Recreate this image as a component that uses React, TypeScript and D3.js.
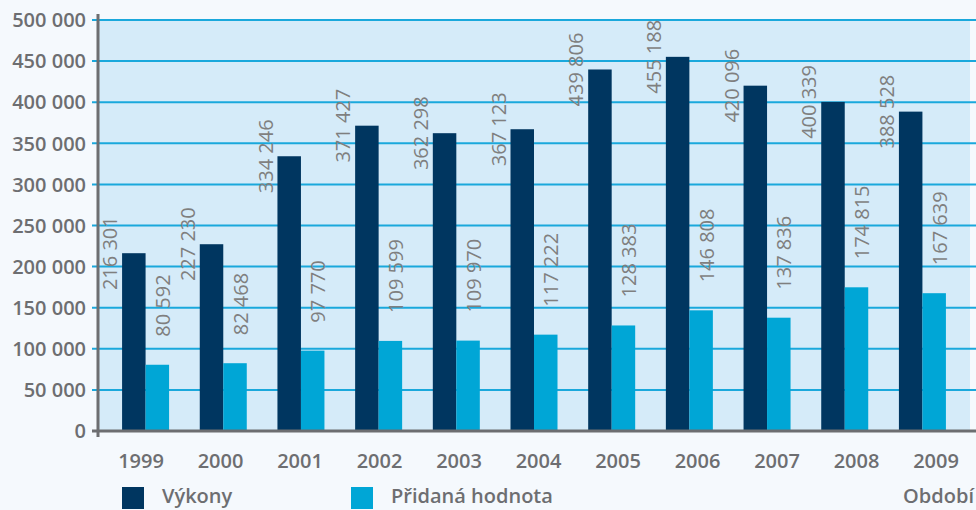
import React, { useEffect, useRef } from 'react';
import * as d3 from 'd3';

const years = ['1999', '2000', '2001', '2002', '2003', '2004', '2005', '2006', '2007', '2008', '2009'];
const vykony = [216301, 227230, 334246, 371427, 362298, 367123, 439806, 455188, 420096, 400339, 388528];
const pridana = [80592, 82468, 97770, 109599, 109970, 117222, 128383, 146808, 137836, 174815, 167639];
const yTicks = [0, 50000, 100000, 150000, 200000, 250000, 300000, 350000, 400000, 450000, 500000];
const seriesNames = ['Výkony', 'Přidaná hodnota'];
const axisTitle = 'Období';

const DARK = '#003660';
const LIGHT = '#00a6d6';
const GRAY = '#6d6e71';

const fmt = (v: number) => d3.format(',')(v).replace(/,/g, ' ');

const App: React.FC = () => {
  const svgRef = useRef<SVGSVGElement>(null);

  useEffect(() => {
    document.body.style.margin = '0';
    if (!svgRef.current) return;
    const width = 976;
    const height = 510;
    const left = 98;
    const right = 970;
    const top = 20;
    const bottom = 431;

    const svg = d3.select(svgRef.current);
    svg.selectAll('*').remove();
    svg.attr('width', width).attr('height', height).attr('viewBox', `0 0 ${width} ${height}`);

    const font = "'Open Sans', 'DejaVu Sans', sans-serif";

    svg.append('rect').attr('width', width).attr('height', height).attr('fill', '#f5f9fd');
    svg.append('rect').attr('x', left).attr('y', top).attr('width', right - left).attr('height', bottom - top).attr('fill', '#d5ebf9');

    const y = d3.scaleLinear().domain([0, 500000]).range([bottom, top]);
    const x = d3.scaleBand<string>().domain(years).range([left, right]).paddingInner(0.395).paddingOuter(0.31);
    const xs = d3.scaleBand<string>().domain(['v', 'p']).range([0, x.bandwidth()]);
    const xl = d3.scalePoint<string>().domain(years).range([141, 936]);

    // gridlines
    svg.append('g').selectAll('line').data(yTicks.slice(1)).enter().append('line')
      .attr('x1', left - 6).attr('x2', width)
      .attr('y1', d => y(d)).attr('y2', d => y(d))
      .attr('stroke', '#1aa8dc').attr('stroke-width', 2);

    // y tick labels
    svg.append('g').selectAll('text').data(yTicks).enter().append('text')
      .attr('x', 86).attr('y', d => y(d)).attr('dy', '0.36em')
      .attr('text-anchor', 'end').attr('font-family', font).attr('font-weight', 600)
      .attr('font-size', 20).attr('fill', GRAY)
      .text(d => fmt(d));

    // bars
    const g = svg.append('g');
    years.forEach((yr, i) => {
      const x0 = x(yr) as number;
      g.append('rect').attr('x', x0 + (xs('v') as number)).attr('y', y(vykony[i]))
        .attr('width', xs.bandwidth()).attr('height', bottom - y(vykony[i])).attr('fill', DARK);
      g.append('rect').attr('x', x0 + (xs('p') as number)).attr('y', y(pridana[i]))
        .attr('width', xs.bandwidth()).attr('height', bottom - y(pridana[i])).attr('fill', LIGHT);

      const cxV = x0 + (xs('v') as number) + xs.bandwidth() / 2 - 24;
      g.append('text')
        .attr('transform', `translate(${cxV},${y(vykony[i])}) rotate(-90)`)
        .attr('text-anchor', 'middle').attr('dominant-baseline', 'central')
        .attr('font-family', font).attr('font-weight', 500).attr('font-size', 20).attr('fill', '#7f7f7f')
        .text(fmt(vykony[i]));

      const cxP = x0 + (xs('p') as number) + xs.bandwidth() / 2 + 5;
      g.append('text')
        .attr('transform', `translate(${cxP},${y(pridana[i]) - 28}) rotate(-90)`)
        .attr('text-anchor', 'start').attr('dominant-baseline', 'central')
        .attr('font-family', font).attr('font-weight', 500).attr('font-size', 20).attr('fill', '#7f7f7f')
        .text(fmt(pridana[i]));

      svg.append('text').attr('x', xl(yr) as number).attr('y', 468)
        .attr('text-anchor', 'middle').attr('font-family', font).attr('font-weight', 600)
        .attr('font-size', 20).attr('fill', GRAY).text(yr);
    });

    // axes lines
    svg.append('line').attr('x1', left - 6).attr('x2', width).attr('y1', bottom).attr('y2', bottom)
      .attr('stroke', GRAY).attr('stroke-width', 3);
    svg.append('line').attr('x1', left).attr('x2', left).attr('y1', 14).attr('y2', bottom + 6)
      .attr('stroke', GRAY).attr('stroke-width', 3);

    // legend
    const legend = [
      { name: seriesNames[0], color: DARK, x: 122 },
      { name: seriesNames[1], color: LIGHT, x: 351 },
    ];
    legend.forEach(l => {
      svg.append('rect').attr('x', l.x).attr('y', 487).attr('width', 22).attr('height', 22).attr('fill', l.color);
      svg.append('text').attr('x', l.x + 40).attr('y', 503)
        .attr('font-family', font).attr('font-weight', 600).attr('font-size', 20)
        .attr('fill', GRAY).text(l.name);
    });
    svg.append('text').attr('x', 974).attr('y', 503).attr('text-anchor', 'end')
      .attr('font-family', font).attr('font-weight', 600).attr('font-size', 20)
      .attr('fill', GRAY).text(axisTitle);
  }, []);

  return <svg ref={svgRef} style={{ display: 'block' }} />;
};

export default App;
